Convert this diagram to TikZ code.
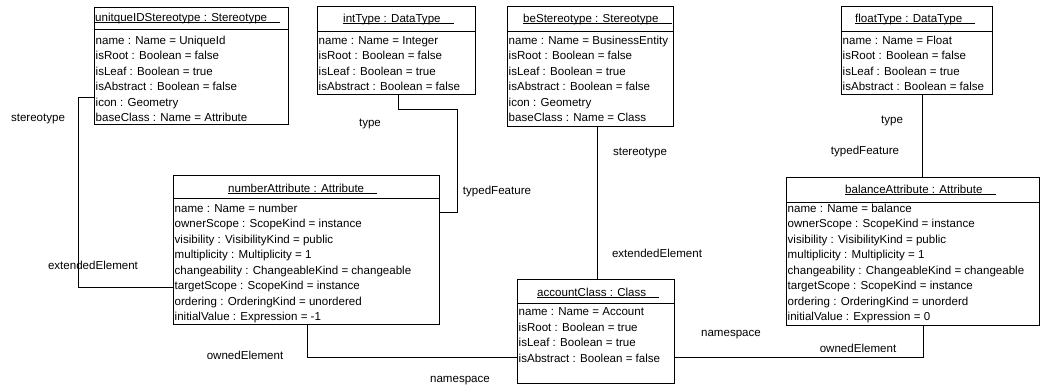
\documentclass[tikz,border=0pt]{standalone}
\usepackage{fontspec}
\setmainfont{Liberation Sans}
\usetikzlibrary{calc}
\tikzset{
  objbox/.style={draw=black, line width=1bp, fill=white, inner sep=0pt, anchor=north west},
  sepline/.style={draw=black, line width=1bp},
  ttl/.style={inner sep=0pt, anchor=base west, font=\fontsize{11.6}{14}\selectfont},
  ul/.style={draw=black, line width=0.8bp},
  attr/.style={inner sep=0pt, anchor=base west, font=\fontsize{11.6}{14}\selectfont},
  lbl/.style={inner sep=0pt, anchor=center, font=\fontsize{11.6}{14}\selectfont},
  conn/.style={draw=black, line width=1bp}
}
\newcommand{\attrrows}[4]{%
  \foreach \r [count=\i] in {#4} {\node[attr] (#1-\i) at (#2, {#3+(\i-1)*15.5}) {\r};}}
\newcommand{\objtitle}[4]{%
  \node[ttl] (#1-t) at (#2,#3) {#4};
  \draw[ul] ($(#1-t.base west)+(0,1)$) -- ($(#1-t.base east)+(13,1)$);}
\begin{document}
\begin{tikzpicture}[x=1bp,y=-1bp]
\useasboundingbox (0,0) rectangle (1048,386);
\fill[white] (0,0) rectangle (1048,386);

% unitqueIDStereotype
\node[objbox, minimum width=194bp, minimum height=117bp] (uid) at (94,7) {};
\draw[sepline] ($(uid.north west)+(0,22)$) -- ($(uid.north east)+(0,22)$);
\objtitle{uid}{95}{21.5}{unitqueIDStereotype : Stereotype}
\attrrows{uid}{95.5}{44}{name : Name = UniqueId, isRoot : Boolean = false, isLeaf : Boolean = true, isAbstract : Boolean = false, icon : Geometry, baseClass : Name = Attribute}

% intType
\node[objbox, minimum width=158bp, minimum height=88bp] (int) at (317,6) {};
\draw[sepline] ($(int.north west)+(0,25)$) -- ($(int.north east)+(0,25)$);
\objtitle{int}{343}{22}{intType : DataType}
\attrrows{int}{318.5}{44}{name : Name = Integer, isRoot : Boolean = false, isLeaf : Boolean = true, isAbstract : Boolean = false}

% beStereotype
\node[objbox, minimum width=166bp, minimum height=120bp] (bes) at (507,6) {};
\draw[sepline] ($(bes.north west)+(0,25)$) -- ($(bes.north east)+(0,25)$);
\objtitle{bes}{523}{22}{beStereotype : Stereotype}
\attrrows{bes}{508.5}{44}{name : Name = BusinessEntity, isRoot : Boolean = false, isLeaf : Boolean = true, isAbstract : Boolean = false, icon : Geometry, baseClass : Name = Class}

% floatType
\node[objbox, minimum width=151bp, minimum height=88bp] (flt) at (841,6) {};
\draw[sepline] ($(flt.north west)+(0,25)$) -- ($(flt.north east)+(0,25)$);
\objtitle{flt}{855}{22}{floatType : DataType}
\attrrows{flt}{842.5}{44}{name : Name = Float, isRoot : Boolean = false, isLeaf : Boolean = true, isAbstract : Boolean = false}

% numberAttribute
\node[objbox, minimum width=266bp, minimum height=149bp] (num) at (173,175) {};
\draw[sepline] ($(num.north west)+(0,23)$) -- ($(num.north east)+(0,23)$);
\objtitle{num}{228}{192}{numberAttribute : Attribute}
\attrrows{num}{174.5}{212}{name : Name = number, ownerScope : ScopeKind = instance, visibility : VisibilityKind = public, multiplicity : Multiplicity = 1, changeability : ChangeableKind = changeable, targetScope : ScopeKind = instance, ordering : OrderingKind = unordered, initialValue : Expression = -1}

% balanceAttribute
\node[objbox, minimum width=253bp, minimum height=148bp] (bal) at (786,177) {};
\draw[sepline] ($(bal.north west)+(0,25)$) -- ($(bal.north east)+(0,25)$);
\objtitle{bal}{845}{193}{balanceAttribute : Attribute}
\attrrows{bal}{787.5}{212}{name : Name = balance, ownerScope : ScopeKind = instance, visibility : VisibilityKind = public, multiplicity : Multiplicity = 1, changeability : ChangeableKind = changeable, targetScope : ScopeKind = instance, ordering : OrderingKind = unorderd, initialValue : Expression = 0}

% accountClass
\node[objbox, minimum width=157bp, minimum height=104bp] (acc) at (517,279) {};
\draw[sepline] ($(acc.north west)+(0,24)$) -- ($(acc.north east)+(0,24)$);
\objtitle{acc}{537}{296}{accountClass : Class}
\attrrows{acc}{518.5}{315.5}{name : Name = Account, isRoot : Boolean = true, isLeaf : Boolean = true, isAbstract : Boolean = false}

% connectors
\draw[conn] ($(uid.north west)+(0,90)$) -- ++(-16,0) |- ($(num.north west)+(0,112)$);
\coordinate (tbend) at (457,109);
\draw[conn] ($(int.south west)+(81,0)$) |- (tbend) |- ($(num.north east)+(0,37)$);
\draw[conn] ($(bes.south west)+(90,0)$) -- ($(acc.north west)+(80,0)$);
\draw[conn] ($(flt.south west)+(81,0)$) -- ($(bal.north west)+(136,0)$);
\draw[conn] ($(num.south west)+(134,0)$) |- ($(acc.north west)+(0,78)$);
\draw[conn] ($(bal.south west)+(137,0)$) |- ($(acc.north east)+(0,78)$);

% labels
\node[lbl] (l1) at (38,119) {stereotype};
\node[lbl] (l2) at (93,265) {extendedElement};
\node[lbl] (l3) at (370,124) {type};
\node[lbl] (l4) at (497,191.5) {typedFeature};
\node[lbl] (l5) at (640,153) {stereotype};
\node[lbl] (l6) at (657,253) {extendedElement};
\node[lbl] (l7) at (892,121) {type};
\node[lbl] (l8) at (865,152) {typedFeature};
\node[lbl] (l9) at (245,355) {ownedElement};
\node[lbl] (l10) at (460,381) {namespace};
\node[lbl] (l11) at (731,335) {namespace};
\node[lbl] (l12) at (858,348) {ownedElement};
\end{tikzpicture}
\end{document}
